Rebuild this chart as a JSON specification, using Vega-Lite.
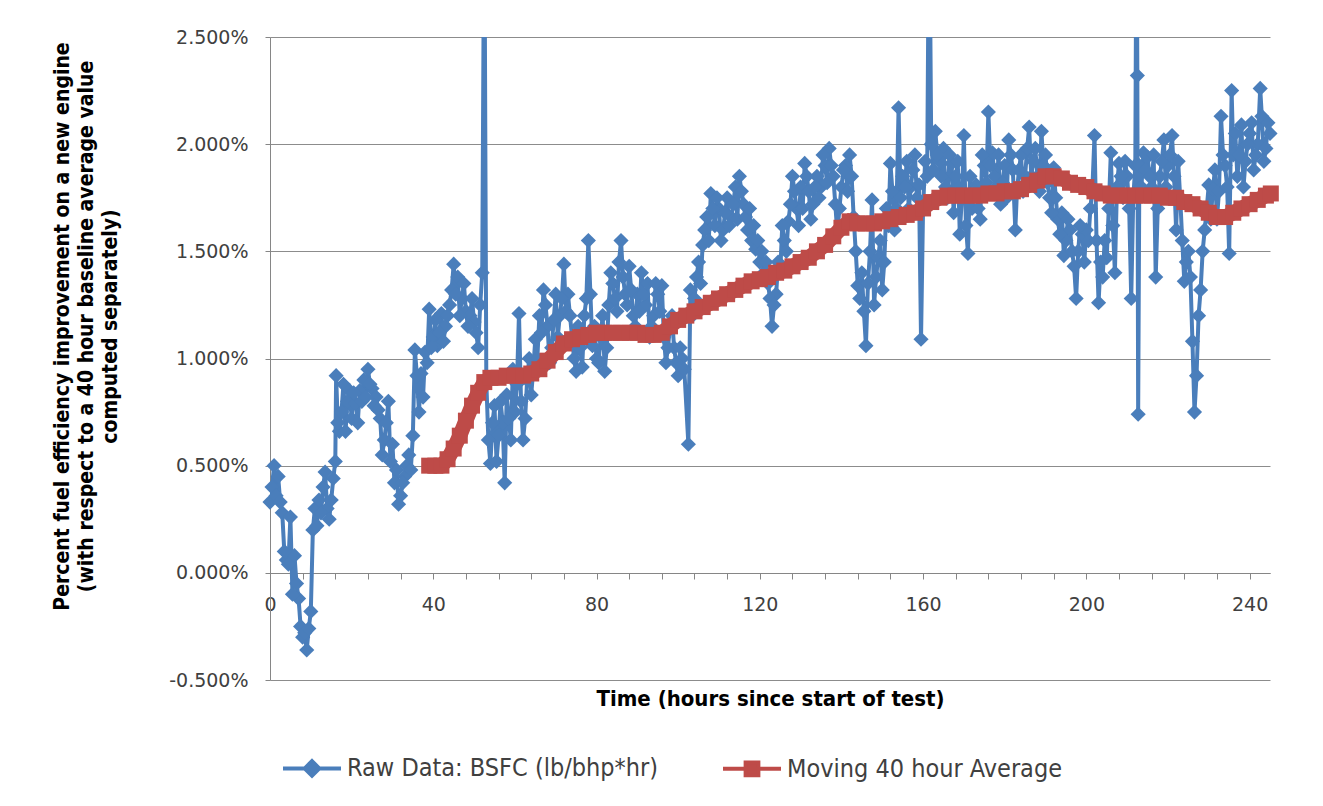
{
"$schema": "https://vega.github.io/schema/vega-lite/v6.json",
"width": 1000, "height": 643,
"autosize": {"type": "none"},
"padding": {"left": 270, "top": 37, "right": 53, "bottom": 126},
"background": "white",
"config": {"view": {"stroke": null}, "font": "DejaVu Sans"},
"data": {"values": [
{"s":"raw","h":0,"v":0.33},{"s":"raw","h":1,"v":0.50},{"s":"raw","h":2,"v":0.45},{"s":"raw","h":3,"v":0.28},{"s":"raw","h":4,"v":0.06},{"s":"raw","h":5,"v":0.26},{"s":"raw","h":6,"v":0.08},{"s":"raw","h":7,"v":-0.12},{"s":"raw","h":8,"v":-0.30},{"s":"raw","h":9,"v":-0.36},{"s":"raw","h":10,"v":-0.18},{"s":"raw","h":10.5,"v":0.20},{"s":"raw","h":11,"v":0.30},{"s":"raw","h":12,"v":0.34},{"s":"raw","h":13,"v":0.40},{"s":"raw","h":13.5,"v":0.47},{"s":"raw","h":14,"v":0.30},{"s":"raw","h":15,"v":0.34},{"s":"raw","h":16,"v":0.52},{"s":"raw","h":16.2,"v":0.92},{"s":"raw","h":17,"v":0.66},{"s":"raw","h":18,"v":0.88},{"s":"raw","h":19,"v":0.80},{"s":"raw","h":20,"v":0.72},{"s":"raw","h":21,"v":0.79},{"s":"raw","h":22,"v":0.85},{"s":"raw","h":23,"v":0.90},{"s":"raw","h":24,"v":0.95},{"s":"raw","h":25,"v":0.86},{"s":"raw","h":26,"v":0.82},{"s":"raw","h":27,"v":0.72},{"s":"raw","h":27.5,"v":0.55},{"s":"raw","h":28,"v":0.62},{"s":"raw","h":29,"v":0.80},{"s":"raw","h":30,"v":0.60},{"s":"raw","h":31,"v":0.48},{"s":"raw","h":32,"v":0.36},{"s":"raw","h":33,"v":0.45},{"s":"raw","h":34,"v":0.55},{"s":"raw","h":35,"v":0.64},{"s":"raw","h":35.5,"v":1.04},{"s":"raw","h":36,"v":0.92},{"s":"raw","h":36.5,"v":0.75},{"s":"raw","h":37,"v":0.93},{"s":"raw","h":38,"v":1.03},{"s":"raw","h":39,"v":1.23},{"s":"raw","h":40,"v":1.10},{"s":"raw","h":41,"v":1.06},{"s":"raw","h":42,"v":1.21},{"s":"raw","h":43,"v":1.15},{"s":"raw","h":44,"v":1.25},{"s":"raw","h":45,"v":1.44},{"s":"raw","h":46,"v":1.38},{"s":"raw","h":47,"v":1.28},{"s":"raw","h":48,"v":1.22},{"s":"raw","h":49,"v":1.20},{"s":"raw","h":50,"v":1.17},{"s":"raw","h":51,"v":1.05},{"s":"raw","h":52,"v":1.40},{"s":"raw","h":52.5,"v":3.2},{"s":"raw","h":53,"v":0.89},{"s":"raw","h":54,"v":0.51},{"s":"raw","h":55,"v":0.78},{"s":"raw","h":56,"v":0.64},{"s":"raw","h":57,"v":0.70},{"s":"raw","h":57.5,"v":0.42},{"s":"raw","h":58,"v":0.83},{"s":"raw","h":59,"v":0.62},{"s":"raw","h":60,"v":0.75},{"s":"raw","h":61,"v":1.21},{"s":"raw","h":62,"v":0.62},{"s":"raw","h":63,"v":0.90},{"s":"raw","h":64,"v":0.83},{"s":"raw","h":65,"v":1.09},{"s":"raw","h":66,"v":1.20},{"s":"raw","h":67,"v":1.32},{"s":"raw","h":68,"v":1.15},{"s":"raw","h":69,"v":1.05},{"s":"raw","h":70,"v":1.30},{"s":"raw","h":71,"v":1.20},{"s":"raw","h":72,"v":1.44},{"s":"raw","h":73,"v":1.30},{"s":"raw","h":74,"v":1.10},{"s":"raw","h":75,"v":0.94},{"s":"raw","h":76,"v":1.05},{"s":"raw","h":77,"v":1.20},{"s":"raw","h":78,"v":1.55},{"s":"raw","h":79,"v":1.06},{"s":"raw","h":80,"v":1.00},{"s":"raw","h":81,"v":1.10},{"s":"raw","h":82,"v":0.94},{"s":"raw","h":83,"v":1.25},{"s":"raw","h":84,"v":1.35},{"s":"raw","h":85,"v":1.22},{"s":"raw","h":86,"v":1.55},{"s":"raw","h":87,"v":1.30},{"s":"raw","h":88,"v":1.43},{"s":"raw","h":89,"v":1.20},{"s":"raw","h":90,"v":1.30},{"s":"raw","h":91,"v":1.40},{"s":"raw","h":92,"v":1.25},{"s":"raw","h":93,"v":1.10},{"s":"raw","h":94,"v":1.20},{"s":"raw","h":95,"v":1.30},{"s":"raw","h":96,"v":1.34},{"s":"raw","h":97,"v":0.98},{"s":"raw","h":98,"v":1.15},{"s":"raw","h":99,"v":1.05},{"s":"raw","h":100,"v":0.92},{"s":"raw","h":101,"v":1.00},{"s":"raw","h":102.5,"v":0.60},{"s":"raw","h":103,"v":1.32},{"s":"raw","h":104,"v":1.28},{"s":"raw","h":105,"v":1.45},{"s":"raw","h":106,"v":1.53},{"s":"raw","h":107,"v":1.66},{"s":"raw","h":108,"v":1.77},{"s":"raw","h":109,"v":1.62},{"s":"raw","h":110,"v":1.70},{"s":"raw","h":111,"v":1.60},{"s":"raw","h":112,"v":1.75},{"s":"raw","h":113,"v":1.66},{"s":"raw","h":114,"v":1.80},{"s":"raw","h":115,"v":1.85},{"s":"raw","h":116,"v":1.72},{"s":"raw","h":117,"v":1.60},{"s":"raw","h":118,"v":1.55},{"s":"raw","h":119,"v":1.51},{"s":"raw","h":120,"v":1.45},{"s":"raw","h":121,"v":1.40},{"s":"raw","h":122,"v":1.35},{"s":"raw","h":123,"v":1.15},{"s":"raw","h":124,"v":1.30},{"s":"raw","h":125,"v":1.40},{"s":"raw","h":126,"v":1.55},{"s":"raw","h":127,"v":1.64},{"s":"raw","h":128,"v":1.85},{"s":"raw","h":129,"v":1.70},{"s":"raw","h":130,"v":1.80},{"s":"raw","h":131,"v":1.91},{"s":"raw","h":132,"v":1.78},{"s":"raw","h":133,"v":1.72},{"s":"raw","h":134,"v":1.85},{"s":"raw","h":135,"v":1.80},{"s":"raw","h":136,"v":1.90},{"s":"raw","h":137,"v":1.98},{"s":"raw","h":138,"v":1.85},{"s":"raw","h":139,"v":1.58},{"s":"raw","h":140,"v":1.80},{"s":"raw","h":141,"v":1.90},{"s":"raw","h":142,"v":1.95},{"s":"raw","h":143,"v":1.66},{"s":"raw","h":144,"v":1.34},{"s":"raw","h":145,"v":1.40},{"s":"raw","h":146,"v":1.06},{"s":"raw","h":147,"v":1.50},{"s":"raw","h":147.5,"v":1.74},{"s":"raw","h":148,"v":1.25},{"s":"raw","h":149,"v":1.47},{"s":"raw","h":150,"v":1.32},{"s":"raw","h":151,"v":1.70},{"s":"raw","h":152,"v":1.91},{"s":"raw","h":153,"v":1.60},{"s":"raw","h":154,"v":2.17},{"s":"raw","h":155,"v":1.85},{"s":"raw","h":156,"v":1.92},{"s":"raw","h":157,"v":1.80},{"s":"raw","h":158,"v":1.95},{"s":"raw","h":159,"v":1.81},{"s":"raw","h":159.5,"v":1.09},{"s":"raw","h":160,"v":1.70},{"s":"raw","h":161,"v":1.85},{"s":"raw","h":161.5,"v":3.2},{"s":"raw","h":162,"v":2.00},{"s":"raw","h":163,"v":2.06},{"s":"raw","h":164,"v":1.92},{"s":"raw","h":165,"v":1.98},{"s":"raw","h":166,"v":1.75},{"s":"raw","h":167,"v":1.91},{"s":"raw","h":168,"v":1.85},{"s":"raw","h":169,"v":1.58},{"s":"raw","h":170,"v":2.04},{"s":"raw","h":171,"v":1.49},{"s":"raw","h":172,"v":1.70},{"s":"raw","h":173,"v":1.81},{"s":"raw","h":174,"v":1.65},{"s":"raw","h":175,"v":1.90},{"s":"raw","h":176,"v":2.15},{"s":"raw","h":177,"v":1.96},{"s":"raw","h":178,"v":1.80},{"s":"raw","h":179,"v":1.72},{"s":"raw","h":180,"v":1.90},{"s":"raw","h":181,"v":2.02},{"s":"raw","h":182,"v":1.88},{"s":"raw","h":182.6,"v":1.60},{"s":"raw","h":183,"v":1.78},{"s":"raw","h":184,"v":1.95},{"s":"raw","h":185,"v":1.85},{"s":"raw","h":186,"v":2.08},{"s":"raw","h":187,"v":1.92},{"s":"raw","h":188,"v":1.85},{"s":"raw","h":189,"v":2.06},{"s":"raw","h":190,"v":1.95},{"s":"raw","h":191,"v":1.75},{"s":"raw","h":192,"v":1.89},{"s":"raw","h":193,"v":1.65},{"s":"raw","h":194,"v":1.68},{"s":"raw","h":195,"v":1.55},{"s":"raw","h":196,"v":1.60},{"s":"raw","h":197,"v":1.43},{"s":"raw","h":197.5,"v":1.28},{"s":"raw","h":198,"v":1.50},{"s":"raw","h":199,"v":1.58},{"s":"raw","h":200,"v":1.60},{"s":"raw","h":201,"v":1.70},{"s":"raw","h":202,"v":2.04},{"s":"raw","h":203,"v":1.26},{"s":"raw","h":204,"v":1.38},{"s":"raw","h":205,"v":1.47},{"s":"raw","h":206,"v":1.96},{"s":"raw","h":207,"v":1.40},{"s":"raw","h":208,"v":1.91},{"s":"raw","h":209,"v":1.75},{"s":"raw","h":210,"v":1.85},{"s":"raw","h":211,"v":1.28},{"s":"raw","h":212,"v":1.90},{"s":"raw","h":212.3,"v":3.2},{"s":"raw","h":212.5,"v":2.32},{"s":"raw","h":212.7,"v":0.74},{"s":"raw","h":213,"v":1.90},{"s":"raw","h":214,"v":1.96},{"s":"raw","h":215,"v":1.94},{"s":"raw","h":216,"v":1.80},{"s":"raw","h":217,"v":1.38},{"s":"raw","h":218,"v":1.85},{"s":"raw","h":219,"v":2.02},{"s":"raw","h":220,"v":1.90},{"s":"raw","h":221,"v":2.04},{"s":"raw","h":222,"v":1.60},{"s":"raw","h":223,"v":1.75},{"s":"raw","h":224,"v":1.36},{"s":"raw","h":225,"v":1.50},{"s":"raw","h":226,"v":1.08},{"s":"raw","h":226.5,"v":0.75},{"s":"raw","h":227,"v":0.92},{"s":"raw","h":228,"v":1.32},{"s":"raw","h":229,"v":1.60},{"s":"raw","h":230,"v":1.81},{"s":"raw","h":231,"v":1.79},{"s":"raw","h":232,"v":1.65},{"s":"raw","h":233,"v":2.13},{"s":"raw","h":234,"v":1.90},{"s":"raw","h":235,"v":1.49},{"s":"raw","h":235.6,"v":2.25},{"s":"raw","h":236,"v":1.95},{"s":"raw","h":237,"v":1.85},{"s":"raw","h":238,"v":2.09},{"s":"raw","h":239,"v":1.92},{"s":"raw","h":240,"v":2.05},{"s":"raw","h":241,"v":1.88},{"s":"raw","h":242,"v":2.00},{"s":"raw","h":242.6,"v":2.26},{"s":"raw","h":243,"v":2.13},{"s":"raw","h":244,"v":1.98},{"s":"raw","h":245,"v":2.05},
{"s":"raw","h":0.5,"v":0.40},{"s":"raw","h":1.5,"v":0.36},{"s":"raw","h":2.5,"v":0.33},{"s":"raw","h":3.5,"v":0.10},{"s":"raw","h":4.5,"v":0.04},{"s":"raw","h":5.5,"v":-0.10},{"s":"raw","h":6.5,"v":-0.05},{"s":"raw","h":7.5,"v":-0.25},{"s":"raw","h":8.5,"v":-0.28},{"s":"raw","h":9.5,"v":-0.26},{"s":"raw","h":11.5,"v":0.22},{"s":"raw","h":12.5,"v":0.28},{"s":"raw","h":14.5,"v":0.25},{"s":"raw","h":15.5,"v":0.44},{"s":"raw","h":16.6,"v":0.70},{"s":"raw","h":17.5,"v":0.75},{"s":"raw","h":18.5,"v":0.66},{"s":"raw","h":19.5,"v":0.85},{"s":"raw","h":20.5,"v":0.84},{"s":"raw","h":21.5,"v":0.70},{"s":"raw","h":22.5,"v":0.80},{"s":"raw","h":23.5,"v":0.82},{"s":"raw","h":24.5,"v":0.88},{"s":"raw","h":25.5,"v":0.78},{"s":"raw","h":26.5,"v":0.76},{"s":"raw","h":28.5,"v":0.70},{"s":"raw","h":29.5,"v":0.52},{"s":"raw","h":30.5,"v":0.42},{"s":"raw","h":31.5,"v":0.32},{"s":"raw","h":32.5,"v":0.42},{"s":"raw","h":33.5,"v":0.50},{"s":"raw","h":34.5,"v":0.48},{"s":"raw","h":37.5,"v":0.82},{"s":"raw","h":38.5,"v":0.98},{"s":"raw","h":39.5,"v":1.05},{"s":"raw","h":40.5,"v":1.18},{"s":"raw","h":41.5,"v":1.12},{"s":"raw","h":42.5,"v":1.08},{"s":"raw","h":43.5,"v":1.20},{"s":"raw","h":44.5,"v":1.32},{"s":"raw","h":45.5,"v":1.30},{"s":"raw","h":46.5,"v":1.20},{"s":"raw","h":47.5,"v":1.35},{"s":"raw","h":48.5,"v":1.15},{"s":"raw","h":49.5,"v":1.28},{"s":"raw","h":50.5,"v":1.12},{"s":"raw","h":51.5,"v":1.25},{"s":"raw","h":53.5,"v":0.62},{"s":"raw","h":54.5,"v":0.70},{"s":"raw","h":55.5,"v":0.52},{"s":"raw","h":56.5,"v":0.80},{"s":"raw","h":58.5,"v":0.72},{"s":"raw","h":59.5,"v":0.95},{"s":"raw","h":60.5,"v":0.88},{"s":"raw","h":61.5,"v":0.80},{"s":"raw","h":62.5,"v":0.72},{"s":"raw","h":63.5,"v":1.00},{"s":"raw","h":64.5,"v":0.95},{"s":"raw","h":65.5,"v":1.00},{"s":"raw","h":66.5,"v":1.12},{"s":"raw","h":67.5,"v":1.25},{"s":"raw","h":68.5,"v":0.98},{"s":"raw","h":69.5,"v":1.18},{"s":"raw","h":70.5,"v":1.10},{"s":"raw","h":71.5,"v":1.28},{"s":"raw","h":72.5,"v":1.22},{"s":"raw","h":73.5,"v":1.20},{"s":"raw","h":74.5,"v":1.00},{"s":"raw","h":75.5,"v":1.15},{"s":"raw","h":76.5,"v":0.96},{"s":"raw","h":77.5,"v":1.28},{"s":"raw","h":78.5,"v":1.30},{"s":"raw","h":79.5,"v":1.15},{"s":"raw","h":80.5,"v":0.98},{"s":"raw","h":81.5,"v":1.20},{"s":"raw","h":82.5,"v":1.05},{"s":"raw","h":83.5,"v":1.40},{"s":"raw","h":84.5,"v":1.28},{"s":"raw","h":85.5,"v":1.45},{"s":"raw","h":86.5,"v":1.38},{"s":"raw","h":87.5,"v":1.25},{"s":"raw","h":88.5,"v":1.32},{"s":"raw","h":89.5,"v":1.15},{"s":"raw","h":90.5,"v":1.22},{"s":"raw","h":91.5,"v":1.30},{"s":"raw","h":92.5,"v":1.35},{"s":"raw","h":93.5,"v":1.15},{"s":"raw","h":94.5,"v":1.35},{"s":"raw","h":95.5,"v":1.22},{"s":"raw","h":96.5,"v":1.10},{"s":"raw","h":97.5,"v":1.05},{"s":"raw","h":98.5,"v":1.20},{"s":"raw","h":99.5,"v":0.98},{"s":"raw","h":100.5,"v":1.05},{"s":"raw","h":101.5,"v":0.95},{"s":"raw","h":103.5,"v":1.20},{"s":"raw","h":104.5,"v":1.38},{"s":"raw","h":105.5,"v":1.35},{"s":"raw","h":106.5,"v":1.60},{"s":"raw","h":107.5,"v":1.55},{"s":"raw","h":108.5,"v":1.70},{"s":"raw","h":109.5,"v":1.75},{"s":"raw","h":110.5,"v":1.55},{"s":"raw","h":111.5,"v":1.68},{"s":"raw","h":112.5,"v":1.62},{"s":"raw","h":113.5,"v":1.72},{"s":"raw","h":114.5,"v":1.65},{"s":"raw","h":115.5,"v":1.78},{"s":"raw","h":116.5,"v":1.66},{"s":"raw","h":117.5,"v":1.70},{"s":"raw","h":118.5,"v":1.62},{"s":"raw","h":119.5,"v":1.55},{"s":"raw","h":120.5,"v":1.50},{"s":"raw","h":121.5,"v":1.45},{"s":"raw","h":122.5,"v":1.28},{"s":"raw","h":123.5,"v":1.25},{"s":"raw","h":124.5,"v":1.45},{"s":"raw","h":125.5,"v":1.62},{"s":"raw","h":126.5,"v":1.50},{"s":"raw","h":127.5,"v":1.72},{"s":"raw","h":128.5,"v":1.78},{"s":"raw","h":129.5,"v":1.62},{"s":"raw","h":130.5,"v":1.70},{"s":"raw","h":131.5,"v":1.85},{"s":"raw","h":132.5,"v":1.65},{"s":"raw","h":133.5,"v":1.80},{"s":"raw","h":134.5,"v":1.75},{"s":"raw","h":135.5,"v":1.95},{"s":"raw","h":136.5,"v":1.82},{"s":"raw","h":137.5,"v":1.90},{"s":"raw","h":138.5,"v":1.72},{"s":"raw","h":139.5,"v":1.70},{"s":"raw","h":140.5,"v":1.88},{"s":"raw","h":141.5,"v":1.78},{"s":"raw","h":142.5,"v":1.85},{"s":"raw","h":143.5,"v":1.50},{"s":"raw","h":144.5,"v":1.28},{"s":"raw","h":145.5,"v":1.22},{"s":"raw","h":146.5,"v":1.35},{"s":"raw","h":148.5,"v":1.38},{"s":"raw","h":149.5,"v":1.55},{"s":"raw","h":150.5,"v":1.45},{"s":"raw","h":151.5,"v":1.62},{"s":"raw","h":152.5,"v":1.78},{"s":"raw","h":153.5,"v":1.70},{"s":"raw","h":154.5,"v":1.75},{"s":"raw","h":155.5,"v":1.80},{"s":"raw","h":156.5,"v":1.70},{"s":"raw","h":157.5,"v":1.88},{"s":"raw","h":158.5,"v":1.75},{"s":"raw","h":160.5,"v":1.92},{"s":"raw","h":162.5,"v":1.88},{"s":"raw","h":163.5,"v":1.95},{"s":"raw","h":164.5,"v":1.85},{"s":"raw","h":165.5,"v":1.80},{"s":"raw","h":166.5,"v":1.95},{"s":"raw","h":167.5,"v":1.68},{"s":"raw","h":168.5,"v":1.92},{"s":"raw","h":169.5,"v":1.75},{"s":"raw","h":170.5,"v":1.62},{"s":"raw","h":171.5,"v":1.85},{"s":"raw","h":172.5,"v":1.78},{"s":"raw","h":173.5,"v":1.70},{"s":"raw","h":174.5,"v":1.95},{"s":"raw","h":175.5,"v":1.82},{"s":"raw","h":176.5,"v":1.90},{"s":"raw","h":177.5,"v":1.85},{"s":"raw","h":178.5,"v":1.95},{"s":"raw","h":179.5,"v":1.82},{"s":"raw","h":180.5,"v":1.75},{"s":"raw","h":181.5,"v":1.95},{"s":"raw","h":183.5,"v":1.88},{"s":"raw","h":184.5,"v":1.78},{"s":"raw","h":185.5,"v":1.98},{"s":"raw","h":186.5,"v":1.85},{"s":"raw","h":187.5,"v":1.98},{"s":"raw","h":188.5,"v":1.78},{"s":"raw","h":189.5,"v":1.90},{"s":"raw","h":190.5,"v":1.82},{"s":"raw","h":191.5,"v":1.68},{"s":"raw","h":192.5,"v":1.75},{"s":"raw","h":193.5,"v":1.58},{"s":"raw","h":194.5,"v":1.48},{"s":"raw","h":195.5,"v":1.65},{"s":"raw","h":196.5,"v":1.50},{"s":"raw","h":198.5,"v":1.62},{"s":"raw","h":199.5,"v":1.45},{"s":"raw","h":200.5,"v":1.55},{"s":"raw","h":201.5,"v":1.80},{"s":"raw","h":202.5,"v":1.55},{"s":"raw","h":203.5,"v":1.45},{"s":"raw","h":204.5,"v":1.55},{"s":"raw","h":205.5,"v":1.70},{"s":"raw","h":206.5,"v":1.62},{"s":"raw","h":207.5,"v":1.80},{"s":"raw","h":208.5,"v":1.85},{"s":"raw","h":209.5,"v":1.92},{"s":"raw","h":210.5,"v":1.70},{"s":"raw","h":211.5,"v":1.75},{"s":"raw","h":213.5,"v":1.80},{"s":"raw","h":214.5,"v":1.88},{"s":"raw","h":215.5,"v":1.85},{"s":"raw","h":216.5,"v":1.95},{"s":"raw","h":217.5,"v":1.70},{"s":"raw","h":218.5,"v":1.92},{"s":"raw","h":219.5,"v":1.80},{"s":"raw","h":220.5,"v":1.95},{"s":"raw","h":221.5,"v":1.85},{"s":"raw","h":222.5,"v":1.92},{"s":"raw","h":223.5,"v":1.55},{"s":"raw","h":224.5,"v":1.45},{"s":"raw","h":225.5,"v":1.38},{"s":"raw","h":227.5,"v":1.20},{"s":"raw","h":228.5,"v":1.50},{"s":"raw","h":229.5,"v":1.70},{"s":"raw","h":230.5,"v":1.65},{"s":"raw","h":231.5,"v":1.88},{"s":"raw","h":232.5,"v":1.78},{"s":"raw","h":233.5,"v":1.95},{"s":"raw","h":234.5,"v":1.80},{"s":"raw","h":236.5,"v":2.05},{"s":"raw","h":237.5,"v":1.95},{"s":"raw","h":238.5,"v":1.80},{"s":"raw","h":239.5,"v":2.00},{"s":"raw","h":240.5,"v":2.10},{"s":"raw","h":241.5,"v":1.95},{"s":"raw","h":243.5,"v":1.92},{"s":"raw","h":244.5,"v":2.10},
{"s":"avg","h":39,"v":0.50},{"s":"avg","h":40.5,"v":0.50},{"s":"avg","h":42,"v":0.50},{"s":"avg","h":43.5,"v":0.53},{"s":"avg","h":45,"v":0.58},{"s":"avg","h":46.5,"v":0.64},{"s":"avg","h":48,"v":0.71},{"s":"avg","h":49.5,"v":0.78},{"s":"avg","h":51,"v":0.84},{"s":"avg","h":52.5,"v":0.89},{"s":"avg","h":54,"v":0.91},{"s":"avg","h":56,"v":0.91},{"s":"avg","h":58,"v":0.92},{"s":"avg","h":60,"v":0.92},{"s":"avg","h":62,"v":0.92},{"s":"avg","h":64,"v":0.93},{"s":"avg","h":66,"v":0.95},{"s":"avg","h":68,"v":0.99},{"s":"avg","h":70,"v":1.03},{"s":"avg","h":72,"v":1.07},{"s":"avg","h":74,"v":1.09},{"s":"avg","h":76,"v":1.10},{"s":"avg","h":78,"v":1.11},{"s":"avg","h":80,"v":1.12},{"s":"avg","h":82,"v":1.12},{"s":"avg","h":84,"v":1.12},{"s":"avg","h":86,"v":1.12},{"s":"avg","h":88,"v":1.12},{"s":"avg","h":90,"v":1.12},{"s":"avg","h":92,"v":1.11},{"s":"avg","h":94,"v":1.11},{"s":"avg","h":96,"v":1.12},{"s":"avg","h":98,"v":1.15},{"s":"avg","h":100,"v":1.18},{"s":"avg","h":102,"v":1.20},{"s":"avg","h":104,"v":1.22},{"s":"avg","h":106,"v":1.24},{"s":"avg","h":108,"v":1.26},{"s":"avg","h":110,"v":1.28},{"s":"avg","h":112,"v":1.30},{"s":"avg","h":114,"v":1.32},{"s":"avg","h":116,"v":1.34},{"s":"avg","h":118,"v":1.36},{"s":"avg","h":120,"v":1.37},{"s":"avg","h":122,"v":1.38},{"s":"avg","h":124,"v":1.40},{"s":"avg","h":126,"v":1.41},{"s":"avg","h":128,"v":1.43},{"s":"avg","h":130,"v":1.45},{"s":"avg","h":132,"v":1.47},{"s":"avg","h":134,"v":1.50},{"s":"avg","h":136,"v":1.53},{"s":"avg","h":138,"v":1.57},{"s":"avg","h":140,"v":1.61},{"s":"avg","h":142,"v":1.64},{"s":"avg","h":144,"v":1.63},{"s":"avg","h":146,"v":1.63},{"s":"avg","h":148,"v":1.63},{"s":"avg","h":150,"v":1.64},{"s":"avg","h":152,"v":1.65},{"s":"avg","h":154,"v":1.66},{"s":"avg","h":156,"v":1.67},{"s":"avg","h":158,"v":1.68},{"s":"avg","h":160,"v":1.70},{"s":"avg","h":162,"v":1.73},{"s":"avg","h":164,"v":1.75},{"s":"avg","h":166,"v":1.76},{"s":"avg","h":168,"v":1.76},{"s":"avg","h":170,"v":1.76},{"s":"avg","h":172,"v":1.76},{"s":"avg","h":174,"v":1.76},{"s":"avg","h":176,"v":1.77},{"s":"avg","h":178,"v":1.77},{"s":"avg","h":180,"v":1.78},{"s":"avg","h":182,"v":1.78},{"s":"avg","h":184,"v":1.79},{"s":"avg","h":186,"v":1.81},{"s":"avg","h":188,"v":1.83},{"s":"avg","h":190,"v":1.85},{"s":"avg","h":192,"v":1.85},{"s":"avg","h":194,"v":1.84},{"s":"avg","h":196,"v":1.82},{"s":"avg","h":198,"v":1.81},{"s":"avg","h":200,"v":1.80},{"s":"avg","h":202,"v":1.78},{"s":"avg","h":204,"v":1.77},{"s":"avg","h":206,"v":1.76},{"s":"avg","h":208,"v":1.76},{"s":"avg","h":210,"v":1.76},{"s":"avg","h":212,"v":1.76},{"s":"avg","h":214,"v":1.76},{"s":"avg","h":216,"v":1.76},{"s":"avg","h":218,"v":1.76},{"s":"avg","h":220,"v":1.75},{"s":"avg","h":222,"v":1.75},{"s":"avg","h":224,"v":1.73},{"s":"avg","h":226,"v":1.72},{"s":"avg","h":228,"v":1.70},{"s":"avg","h":230,"v":1.68},{"s":"avg","h":232,"v":1.66},{"s":"avg","h":234,"v":1.66},{"s":"avg","h":236,"v":1.68},{"s":"avg","h":238,"v":1.70},{"s":"avg","h":240,"v":1.72},{"s":"avg","h":242,"v":1.74},{"s":"avg","h":244,"v":1.76},{"s":"avg","h":245.2,"v":1.77}
]},
"encoding": {
  "x": {"field": "h", "type": "quantitative",
    "scale": {"domain": [0, 245], "nice": false, "zero": false},
    "axis": {"offset": -107, "values": [0,8,16,24,32,40,48,56,64,72,80,88,96,104,112,120,128,136,144,152,160,168,176,184,192,200,208,216,224,232,240],
      "labelExpr": "datum.value % 40 === 0 ? '' + datum.value : ''",
      "grid": false, "domainColor": "#868686", "tickColor": "#868686", "tickSize": 6,
      "labelFont": "DejaVu Sans", "labelFontSize": 19, "labelColor": "#404040", "labelPadding": 16, "labelFlush": false,
      "title": "Time (hours since start of test)",
      "titleFont": "DejaVu Sans Condensed, DejaVu Sans", "titleFontWeight": "bold", "titleFontSize": 22, "titleColor": "#000000",
      "titleX": 500, "titleY": 115, "titleAlign": "center", "titleBaseline": "top"}},
  "y": {"field": "v", "type": "quantitative",
    "scale": {"domain": [-0.5, 2.5], "nice": false, "zero": false},
    "axis": {"values": [-0.5, 0, 0.5, 1, 1.5, 2, 2.5],
      "labelExpr": "(datum.value < 0 ? '-' : '') + format(abs(datum.value), '.3f') + '%'",
      "grid": true, "gridColor": "#8c8c8c", "gridWidth": 1,
      "domainColor": "#868686", "tickColor": "#868686", "tickSize": 5,
      "labelFont": "DejaVu Sans", "labelFontSize": 19, "labelColor": "#404040", "labelPadding": 17,
      "title": ["Percent fuel efficiency improvement on a new engine", "(with respect to a 40 hour baseline average value", "computed separately)"],
      "titleFont": "DejaVu Sans Condensed, DejaVu Sans", "titleFontWeight": "bold", "titleFontSize": 21, "titleColor": "#000000",
      "titleX": -208, "titleY": 289, "titleAngle": 270, "titleAlign": "center", "titleBaseline": "middle", "titleLineHeight": 24}},
  "color": {"field": "s", "type": "nominal",
    "scale": {"domain": ["raw", "avg"], "range": ["#4A7EBB", "#BE4B48"]},
    "legend": {"orient": "none", "legendX": 11, "legendY": 700, "direction": "horizontal", "title": null,
      "labelExpr": "datum.value === 'raw' ? 'Raw Data: BSFC (lb/bhp*hr)' : 'Moving 40 hour Average'",
      "labelFont": "DejaVu Sans Condensed, DejaVu Sans", "labelFontSize": 25, "labelColor": "#404040", "labelLimit": 0,
      "labelOffset": 4, "columnPadding": 56, "symbolSize": 3364, "symbolStrokeWidth": 4, "padding": 0,
      "encode": {"symbols": {"update": {
        "shape": {"signal": "datum.value === 'raw' ? 'M-1,0H1M0,-0.25L0.25,0L0,0.25L-0.25,0Z' : 'M-1,0H1M-0.22,-0.22H0.22V0.22H-0.22Z'"},
        "fill": {"signal": "datum.value === 'raw' ? '#4A7EBB' : '#BE4B48'"},
        "stroke": {"signal": "datum.value === 'raw' ? '#4A7EBB' : '#BE4B48'"},
        "strokeWidth": {"value": 4},
        "size": {"value": 3364},
        "opacity": {"value": 1}}}}}}
},
"layer": [
  {"transform": [{"filter": "datum.s === 'raw'"}],
   "mark": {"type": "line", "clip": true, "strokeWidth": 4}},
  {"transform": [{"filter": "datum.s === 'raw' && datum.v <= 2.5"}],
   "mark": {"type": "point", "shape": "diamond", "filled": true, "opacity": 1, "strokeWidth": 0, "size": 230}},
  {"transform": [{"filter": "datum.s === 'avg'"}],
   "mark": {"type": "line", "strokeWidth": 15, "strokeCap": "butt"}},
  {"transform": [{"filter": "datum.s === 'avg'"}],
   "mark": {"type": "point", "shape": "square", "filled": true, "opacity": 1, "strokeWidth": 0, "size": 256}}
]
}
